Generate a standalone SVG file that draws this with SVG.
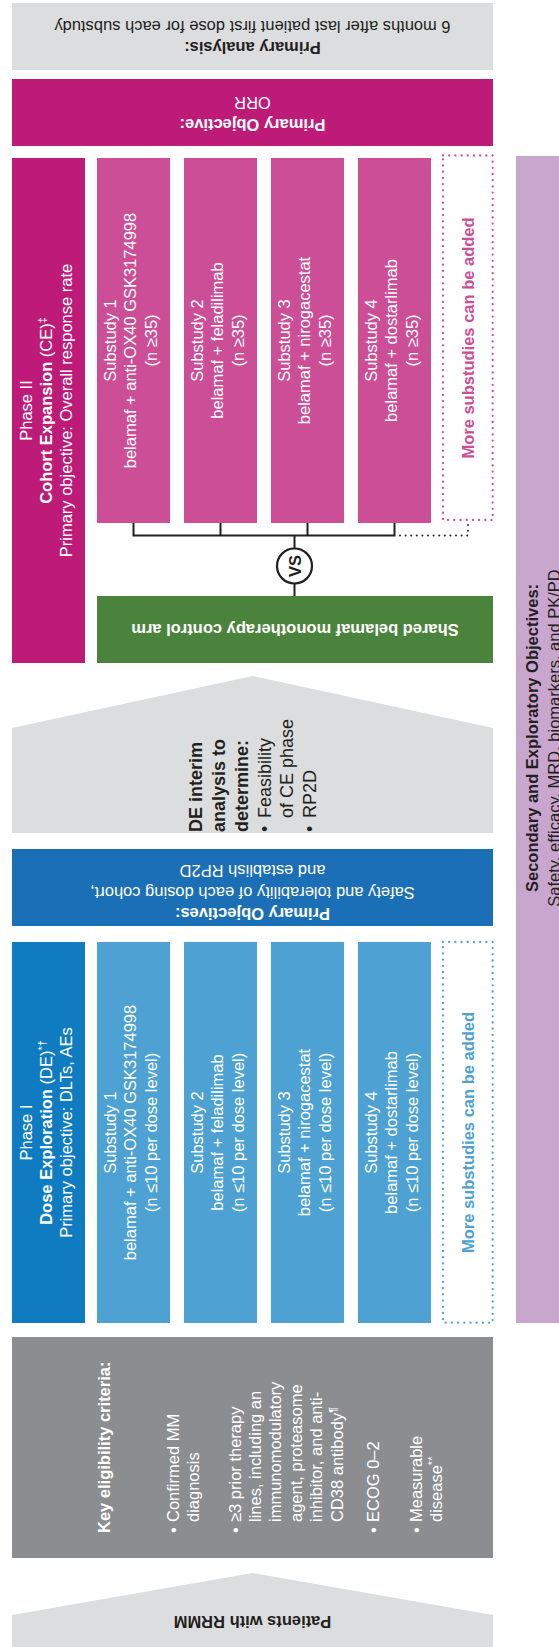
<svg xmlns="http://www.w3.org/2000/svg" width="559" height="1647" viewBox="0 0 559 1647">
<style>
text{font-family:"Liberation Sans",Arial,sans-serif;font-size:16.5px}
.w{fill:#ffffff}
.d{fill:#231f20}
.b{font-weight:bold}
.m{text-anchor:middle}
.sup{font-size:11px}
.pk{fill:#cc4e97}
.lb{fill:#4da1d3}
</style>
<rect width="559" height="1647" fill="#ffffff"/>

<g id="primary-analysis">
<rect x="12" y="3" width="481" height="67" fill="#dcdddf"/>
<text class="d b m" transform="translate(252.5,42) rotate(180)">Primary analysis:</text>
<text class="d m" transform="translate(252.5,21) rotate(180)">6 months after last patient first dose for each substudy</text>
</g>

<g id="primary-objective-ce">
<rect x="12" y="79" width="481" height="67" fill="#bd1b77"/>
<text class="w b m" transform="translate(252.5,119) rotate(180)">Primary Objective:</text>
<text class="w m" transform="translate(252.5,96.5) rotate(180)">ORR</text>
</g>

<g id="phase2">
<rect x="12" y="158" width="73" height="505" fill="#bd1b77"/>
<text class="w m" transform="translate(31.5,410.5) rotate(-90)">Phase II</text>
<text class="w m" transform="translate(51.5,410.5) rotate(-90)"><tspan class="b">Cohort Expansion</tspan> (CE)<tspan class="sup" dy="-6">‡</tspan></text>
<text class="w m" transform="translate(71.5,410.5) rotate(-90)">Primary objective: Overall response rate</text>
</g>

<g id="ce-substudy1">
<rect x="97" y="158" width="73" height="365" fill="#cc4e97"/>
<text class="w m" transform="translate(115.5,340.5) rotate(-90)">Substudy 1</text>
<text class="w m" transform="translate(136,340.5) rotate(-90)">belamaf + anti-OX40 GSK3174998</text>
<text class="w m" transform="translate(156.5,340.5) rotate(-90)">(n ≥35)</text>
</g>
<g id="ce-substudy2">
<rect x="184" y="158" width="73" height="365" fill="#cc4e97"/>
<text class="w m" transform="translate(202.5,340.5) rotate(-90)">Substudy 2</text>
<text class="w m" transform="translate(223,340.5) rotate(-90)">belamaf + feladilimab</text>
<text class="w m" transform="translate(243.5,340.5) rotate(-90)">(n ≥35)</text>
</g>
<g id="ce-substudy3">
<rect x="271" y="158" width="73" height="365" fill="#cc4e97"/>
<text class="w m" transform="translate(289.5,340.5) rotate(-90)">Substudy 3</text>
<text class="w m" transform="translate(310,340.5) rotate(-90)">belamaf + nirogacestat</text>
<text class="w m" transform="translate(330.5,340.5) rotate(-90)">(n ≥35)</text>
</g>
<g id="ce-substudy4">
<rect x="358" y="158" width="73" height="365" fill="#cc4e97"/>
<text class="w m" transform="translate(376.5,340.5) rotate(-90)">Substudy 4</text>
<text class="w m" transform="translate(397,340.5) rotate(-90)">belamaf + dostarlimab</text>
<text class="w m" transform="translate(417.5,340.5) rotate(-90)">(n ≥35)</text>
</g>
<g id="ce-more">
<rect x="443" y="155.5" width="49.7" height="364.5" fill="none" stroke="#cc4e97" stroke-width="2.3" stroke-linecap="round" stroke-dasharray="0 6.2"/>
<text class="pk b m" transform="translate(474,338) rotate(-90)">More substudies can be added</text>
</g>

<g id="connectors" fill="none" stroke="#231f20">
<path d="M133.5,523V535.5M220.5,523V535.5M307.5,523V535.5M394.5,523V535.5M132.5,535.5H395.5" stroke-width="2"/>
<path d="M294.5,535.5V548.5M294.5,583.5V596" stroke-width="2"/>
<path d="M400,535.5H468V521" stroke-width="2" stroke-linecap="round" stroke-dasharray="0 5.6"/>
</g>

<g id="vs">
<circle cx="294.5" cy="566" r="17.5" fill="#ffffff" stroke="#231f20" stroke-width="2.2"/>
<text class="d b m" transform="translate(300.5,566) rotate(-90)">VS</text>
</g>

<g id="control-arm">
<rect x="97" y="596" width="396" height="67" fill="#4a843c"/>
<text class="w b m" transform="translate(295,624) rotate(180)">Shared belamaf monotherapy control arm</text>
</g>

<g id="de-interim">
<polygon points="12,728 252.5,676 493,728 493,833 12,833" fill="#dcdddf"/>
<g class="d" style="font-size:18px">
<text class="b" style="font-size:18px" transform="translate(202,832) rotate(-90)">DE interim</text>
<text class="b" style="font-size:18px" transform="translate(225,832) rotate(-90)">analysis to</text>
<text class="b" style="font-size:18px" transform="translate(248,832) rotate(-90)">determine:</text>
<text style="font-size:18px" transform="translate(270.5,832) rotate(-90)">•</text>
<text style="font-size:18px" transform="translate(270.5,818) rotate(-90)">Feasibility</text>
<text style="font-size:18px" transform="translate(293,818) rotate(-90)">of CE phase</text>
<text style="font-size:18px" transform="translate(316,832) rotate(-90)">•</text>
<text style="font-size:18px" transform="translate(316,818) rotate(-90)">RP2D</text>
</g>
</g>

<g id="primary-objectives-de">
<rect x="12" y="849" width="481" height="77" fill="#1b6fb7"/>
<text class="w b m" transform="translate(252.5,907.5) rotate(180)">Primary Objectives:</text>
<text class="w m" transform="translate(252.5,886.5) rotate(180)">Safety and tolerability of each dosing cohort,</text>
<text class="w m" transform="translate(252.5,864.5) rotate(180)">and establish RP2D</text>
</g>

<g id="phase1">
<rect x="12" y="942" width="73" height="381" fill="#0f7bc1"/>
<text class="w m" transform="translate(31.5,1132.5) rotate(-90)">Phase I</text>
<text class="w m" transform="translate(51.5,1132.5) rotate(-90)"><tspan class="b">Dose Exploration</tspan> (DE)<tspan class="sup" dy="-6">*†</tspan></text>
<text class="w m" transform="translate(71.5,1132.5) rotate(-90)">Primary objective: DLTs, AEs</text>
</g>

<g id="de-substudy1">
<rect x="97" y="942" width="73" height="381" fill="#4da1d3"/>
<text class="w m" transform="translate(115.5,1132.5) rotate(-90)">Substudy 1</text>
<text class="w m" transform="translate(136,1132.5) rotate(-90)">belamaf + anti-OX40 GSK3174998</text>
<text class="w m" transform="translate(156.5,1132.5) rotate(-90)">(n ≤10 per dose level)</text>
</g>
<g id="de-substudy2">
<rect x="184" y="942" width="73" height="381" fill="#4da1d3"/>
<text class="w m" transform="translate(202.5,1132.5) rotate(-90)">Substudy 2</text>
<text class="w m" transform="translate(223,1132.5) rotate(-90)">belamaf + feladilimab</text>
<text class="w m" transform="translate(243.5,1132.5) rotate(-90)">(n ≤10 per dose level)</text>
</g>
<g id="de-substudy3">
<rect x="271" y="942" width="73" height="381" fill="#4da1d3"/>
<text class="w m" transform="translate(289.5,1132.5) rotate(-90)">Substudy 3</text>
<text class="w m" transform="translate(310,1132.5) rotate(-90)">belamaf + nirogacestat</text>
<text class="w m" transform="translate(330.5,1132.5) rotate(-90)">(n ≤10 per dose level)</text>
</g>
<g id="de-substudy4">
<rect x="358" y="942" width="73" height="381" fill="#4da1d3"/>
<text class="w m" transform="translate(376.5,1132.5) rotate(-90)">Substudy 4</text>
<text class="w m" transform="translate(397,1132.5) rotate(-90)">belamaf + dostarlimab</text>
<text class="w m" transform="translate(417.5,1132.5) rotate(-90)">(n ≤10 per dose level)</text>
</g>
<g id="de-more">
<rect x="443" y="942" width="49.7" height="380.7" fill="none" stroke="#4da1d3" stroke-width="2.3" stroke-linecap="round" stroke-dasharray="0 6.2"/>
<text class="lb b m" transform="translate(474,1132.5) rotate(-90)">More substudies can be added</text>
</g>

<g id="secondary-objectives">
<rect x="516" y="156" width="43" height="1167" fill="#c9a6cd"/>
<text class="d b m" transform="translate(538,738) rotate(-90)">Secondary and Exploratory Objectives:</text>
<text class="d m" transform="translate(559.5,738) rotate(-90)">Safety, efficacy, MRD, biomarkers, and PK/PD</text>
</g>

<g id="eligibility">
<rect x="12" y="1337" width="481" height="221" fill="#8c8d91"/>
<text class="w b" transform="translate(110,1533) rotate(-90)">Key eligibility criteria:</text>
<text class="w" transform="translate(178.5,1533) rotate(-90)">•</text>
<text class="w" transform="translate(178.5,1522) rotate(-90)">Confirmed MM</text>
<text class="w" transform="translate(199,1522) rotate(-90)">diagnosis</text>
<text class="w" transform="translate(240.5,1533) rotate(-90)">•</text>
<text class="w" transform="translate(240.5,1522) rotate(-90)">≥3 prior therapy</text>
<text class="w" transform="translate(261,1522) rotate(-90)">lines, including an</text>
<text class="w" transform="translate(281,1522) rotate(-90)">immunomodulatory</text>
<text class="w" transform="translate(301.5,1522) rotate(-90)">agent, proteasome</text>
<text class="w" transform="translate(322,1522) rotate(-90)">inhibitor, and anti-</text>
<text class="w" transform="translate(342.5,1522) rotate(-90)">CD38 antibody<tspan class="sup" dy="-6">¶</tspan></text>
<text class="w" transform="translate(379,1533) rotate(-90)">•</text>
<text class="w" transform="translate(379,1522) rotate(-90)">ECOG 0–2</text>
<text class="w" transform="translate(422,1533) rotate(-90)">•</text>
<text class="w" transform="translate(422,1522) rotate(-90)">Measurable</text>
<text class="w" transform="translate(442,1522) rotate(-90)">disease<tspan class="sup" dy="-6">**</tspan></text>
</g>

<g id="patients">
<polygon points="12,1615 252.5,1573 493,1615 493,1647 12,1647" fill="#dcdddf"/>
<text class="d b m" transform="translate(252.5,1616) rotate(180)">Patients with RRMM</text>
</g>
</svg>
